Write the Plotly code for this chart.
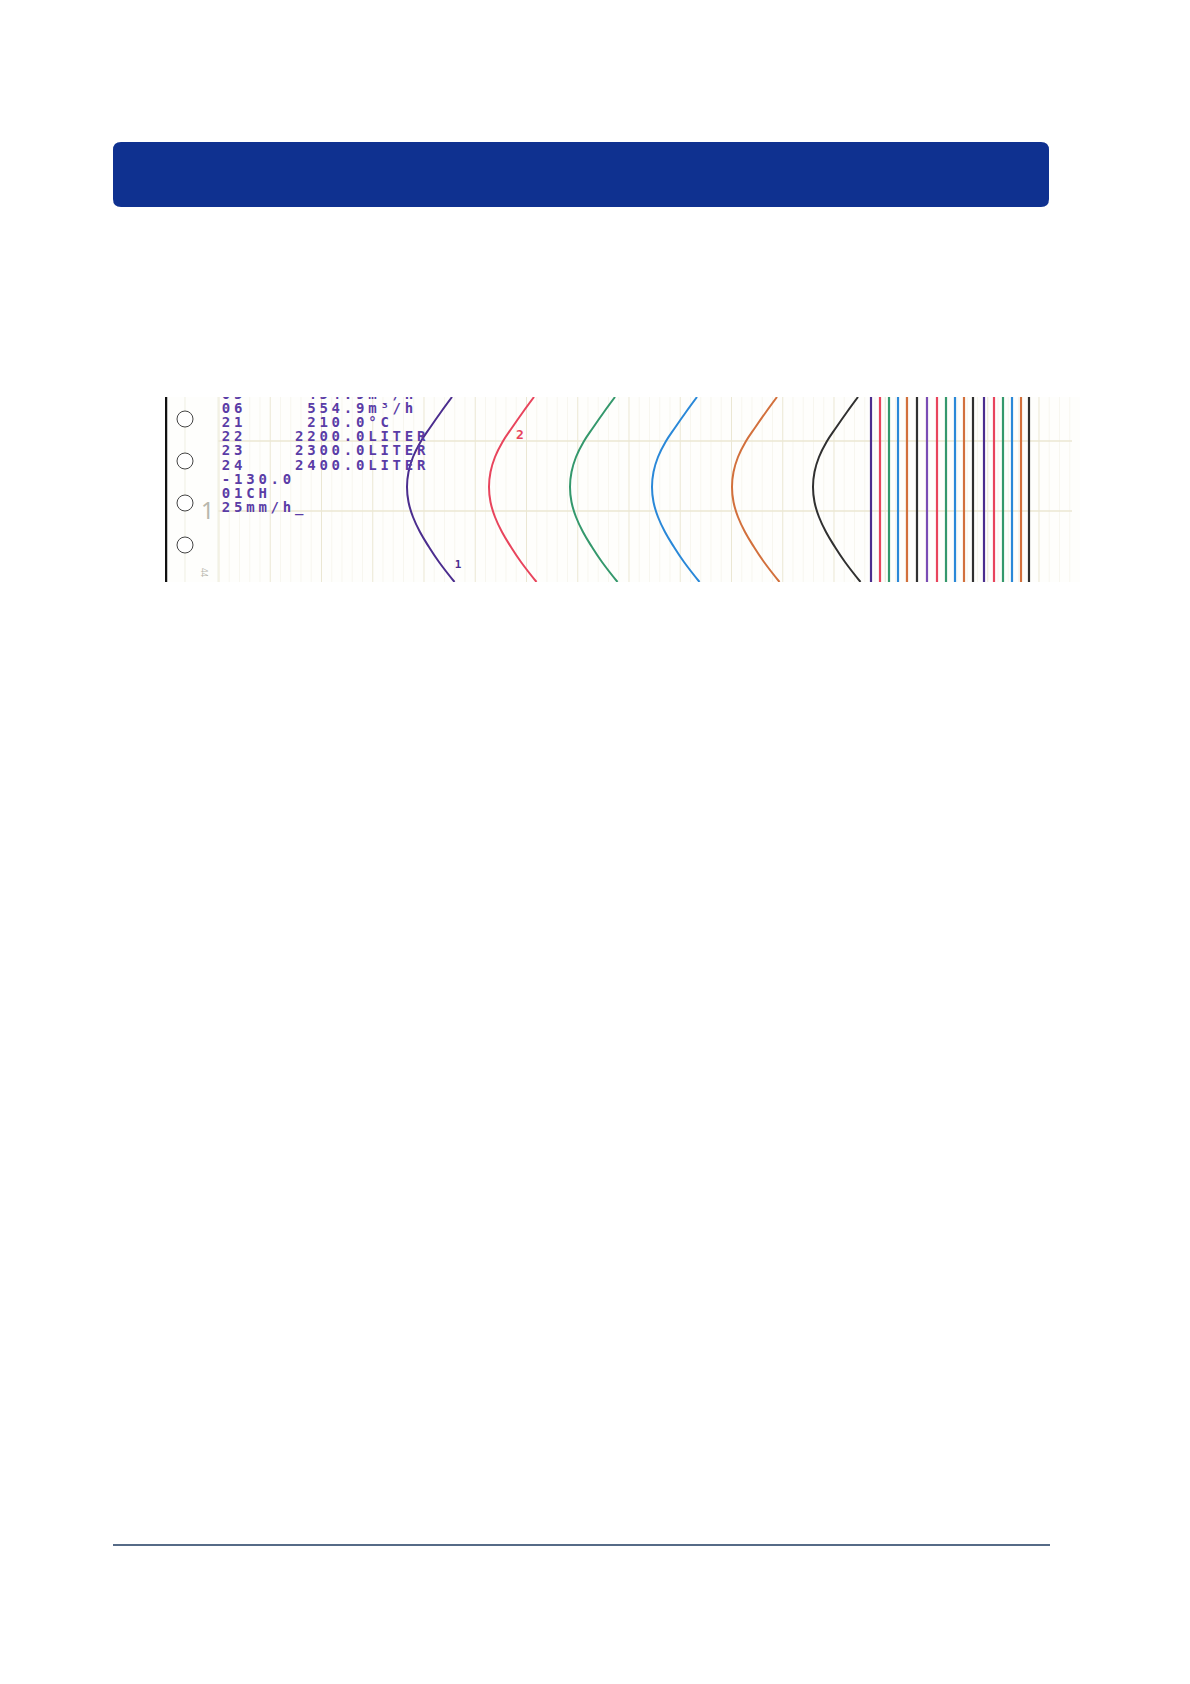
import plotly.graph_objects as go

# Page + recorder chart strip (pen traces on grid paper)
W, H = 1190, 1684

# Colours
BANNER = "#0f3190"
RULE = "#1e3a5f"
GRID_MAJOR = "#ebe7d3"
GRID_MINOR = "#f7f6ef"
PRINT_INK = "#5a3ca6"

# ============================================
# DATA
# ============================================

# time rows down the strip (chart units, 0 = top edge of strip)
time_rows = [0, 15, 30, 45, 60, 75, 90, 105, 120, 135, 150, 165, 185]
# horizontal swing of the analog pens relative to their turning point
swing = [45, 34, 23.5, 13.5, 6, 1.5, 0, 1.5, 6, 13, 22, 32, 47.5]
# turning point (minimum) position of each analog pen
pen_names = ["1", "2", "3", "4", "5", "6"]
pen_minimum = [407, 489, 570, 652, 732, 813]
pen_colors = ["#4b2d8e", "#e8445c", "#34986c", "#2a88d8", "#d2703c", "#303030"]

# straight traces (constant channels) at the right of the strip
flat_positions = [871, 880, 889, 898, 907, 917, 927, 937, 946,
                  955, 964, 973, 984, 994, 1003, 1012, 1021, 1029]
flat_colors = ["#4b2d8e", "#e8445c", "#34986c", "#2a88d8", "#d2703c", "#303030",
               "#7a4cb4", "#e8445c", "#34986c", "#2a88d8", "#d2703c", "#303030",
               "#4b2d8e", "#e8445c", "#34986c", "#2a88d8", "#d2703c", "#303030"]

# digital printout on the chart
printout = [
    "05     454.9m³/h",
    "06     554.9m³/h",
    "21     210.0°C",
    "22    2200.0LITER",
    "23    2300.0LITER",
    "24    2400.0LITER",
    "-130.0",
    "01CH",
    "25mm/h_",
]

# ============================================
# LAYOUT HELPERS
# ============================================

STRIP_X0, STRIP_X1 = 165, 1080   # strip left/right (page px)
STRIP_Y0, STRIP_Y1 = 397, 582    # strip top/bottom (page px)


def px(x):
    return x / W


def py(y):
    return 1 - y / H


def rounded_rect(x0, y0, x1, y1, r):
    return (
        f"M {px(x0 + r)},{py(y0)} L {px(x1 - r)},{py(y0)} "
        f"Q {px(x1)},{py(y0)} {px(x1)},{py(y0 + r)} "
        f"L {px(x1)},{py(y1 - r)} Q {px(x1)},{py(y1)} {px(x1 - r)},{py(y1)} "
        f"L {px(x0 + r)},{py(y1)} Q {px(x0)},{py(y1)} {px(x0)},{py(y1 - r)} "
        f"L {px(x0)},{py(y0 + r)} Q {px(x0)},{py(y0)} {px(x0 + r)},{py(y0)} Z"
    )


fig = go.Figure()

# ============================================
# PEN TRACES
# ============================================

for name, xmin, color in zip(pen_names, pen_minimum, pen_colors):
    fig.add_trace(go.Scatter(
        x=[xmin + s for s in swing],
        y=time_rows,
        mode="lines",
        line=dict(color=color, width=2, shape="spline", smoothing=1.2),
        name=name,
        hoverinfo="skip",
    ))

for xpos, color in zip(flat_positions, flat_colors):
    fig.add_trace(go.Scatter(
        x=[xpos, xpos],
        y=[time_rows[0], time_rows[-1]],
        mode="lines",
        line=dict(color=color, width=2.2),
        hoverinfo="skip",
    ))

# ============================================
# PRINTOUT (one character per cell, dot-matrix pitch)
# ============================================

PITCH = 12.2
LEAD = 14.24
TEXT_X = 226
TEXT_Y = -2

cx, cy, ct = [], [], []
for i, line in enumerate(printout):
    for col, ch in enumerate(line):
        if ch != " ":
            cx.append(TEXT_X + col * PITCH)
            cy.append(TEXT_Y + i * LEAD)
            ct.append(ch)

fig.add_trace(go.Scatter(
    x=cx, y=cy, text=ct,
    mode="text",
    textposition="middle center",
    textfont=dict(family="DejaVu Sans Mono", size=14, color=PRINT_INK, weight="bold"),
    cliponaxis=True,
    hoverinfo="skip",
))

# pen number marks
fig.add_trace(go.Scatter(
    x=[458, 520], y=[168, 39], text=["1", "2"],
    mode="text",
    textfont=dict(family="DejaVu Sans Mono", size=[11, 13],
                  color=[pen_colors[0], pen_colors[1]], weight="bold"),
    hoverinfo="skip",
))

# ============================================
# SHAPES: grid paper, perforations, page furniture
# ============================================

shapes = []
strip_h = STRIP_Y1 - STRIP_Y0
grid_right = 1072

# minor + major vertical grid
k = 0
x = 219.0
while x <= grid_right:
    shapes.append(dict(type="line", xref="x", yref="y", x0=x, x1=x, y0=0, y1=strip_h,
                       line=dict(color=GRID_MAJOR if k % 5 == 0 else GRID_MINOR, width=1),
                       layer="below"))
    x += 51.25 / 5
    k += 1

# horizontal grid
for yy in [44, 114]:
    shapes.append(dict(type="line", xref="x", yref="y", x0=218, x1=grid_right, y0=yy, y1=yy,
                       line=dict(color=GRID_MAJOR, width=1.5), layer="below"))

# perforation margin guide lines
for xx in [185, 218]:
    shapes.append(dict(type="line", xref="x", yref="y", x0=xx, x1=xx, y0=0, y1=strip_h,
                       line=dict(color="#efefe2", width=1), layer="below"))

# perforation holes
for yc in [22, 64, 106, 148]:
    shapes.append(dict(type="circle", xref="x", yref="y", x0=177, x1=193, y0=yc - 8, y1=yc + 8,
                       line=dict(color="#444444", width=1), fillcolor="white"))

# black left edge of the strip
shapes.append(dict(type="line", xref="x", yref="y", x0=166, x1=166, y0=0, y1=strip_h,
                   line=dict(color="#111111", width=2.5)))

# header banner
shapes.append(dict(type="path", xref="paper", yref="paper",
                   path=rounded_rect(113, 142, 1049, 207, 8),
                   fillcolor=BANNER, line=dict(width=0)))

# footer rule
shapes.append(dict(type="line", xref="paper", yref="paper",
                   x0=px(113), x1=px(1050), y0=py(1545), y1=py(1545),
                   line=dict(color=RULE, width=1.5)))

annotations = [
    dict(x=207, y=113, xref="x", yref="y", text="1", showarrow=False,
         font=dict(family="Noto Sans", size=23, color="#b8b7ac")),
    dict(x=205, y=176, xref="x", yref="y", text="44", showarrow=False, textangle=90,
         font=dict(family="Noto Sans", size=8, color="#b8b7ac")),
]

fig.update_layout(
    width=W,
    height=H,
    margin=dict(l=0, r=0, t=0, b=0),
    paper_bgcolor="white",
    plot_bgcolor="#fefefc",
    showlegend=False,
    shapes=shapes,
    annotations=annotations,
    xaxis=dict(domain=[px(STRIP_X0), px(STRIP_X1)], range=[STRIP_X0, STRIP_X1],
               showgrid=False, zeroline=False, showticklabels=False, ticks="",
               fixedrange=True),
    yaxis=dict(domain=[py(STRIP_Y1), py(STRIP_Y0)], range=[strip_h, 0],
               showgrid=False, zeroline=False, showticklabels=False, ticks="",
               fixedrange=True),
)

# page is laid out edge to edge, so drop the browser's default body margin
fig.write_html("out.html", config={"displayModeBar": False},
               post_script="document.body.style.margin='0px';")
